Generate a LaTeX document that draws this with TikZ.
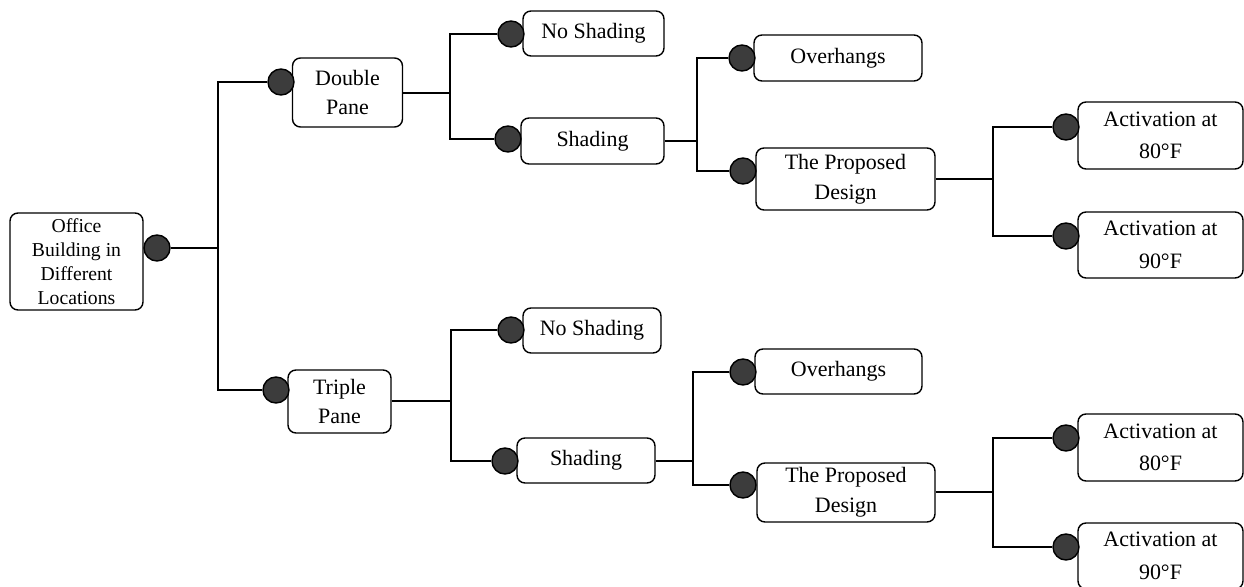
\documentclass[tikz,border=0pt]{standalone}
\usepackage{fontspec}
\setmainfont{Liberation Serif}
\definecolor{dotgray}{HTML}{3C3C3C}
\def\px{0.02cm}
\begin{document}
\begin{tikzpicture}[x=0.02cm, y=-0.02cm, line width=0.8pt,
    box/.style 2 args={draw, rounded corners=8*\px, fill=white, align=center,
        minimum width=#1*\px, minimum height=#2*\px, inner sep=0pt,
        font=\fontsize{12.5}{17}\selectfont},
    dot/.style={draw, circle, fill=dotgray, minimum size=26*\px, inner sep=0pt}]
    \useasboundingbox (0,0) rectangle (1244,587);
    % Root
    \node[box={133}{97}, font=\fontsize{11.2}{13.6}\selectfont] (office) at (76.5,261.5) {Office\\Building in\\Different\\Locations};
    % Glazing
    \node[box={110}{69}, font=\fontsize{12.5}{16.5}\selectfont] (double) at (347.5,92.5) {Double\\Pane};
    \node[box={103}{63}, font=\fontsize{12.5}{16.5}\selectfont] (triple) at (339.5,401.5) {Triple\\Pane};
    % Shading, upper branch
    \node[box={141}{45}] (noshadeA) at (593.5,33.5) {No Shading};
    \node[box={143}{46}] (shadeA) at (592.5,141) {Shading};
    \node[box={168}{46}] (overA) at (838,58) {Overhangs};
    \node[box={179}{62}] (designA) at (845.5,179) {The Proposed\\Design};
    \node[box={165}{67}, font=\fontsize{12.5}{18.5}\selectfont] (eightyA) at (1160.5,135.5) {Activation at\\80°F};
    \node[box={165}{66}, font=\fontsize{12.5}{18.5}\selectfont] (ninetyA) at (1160.5,245) {Activation at\\90°F};
    % Shading, lower branch
    \node[box={138}{45}] (noshadeB) at (592,330.5) {No Shading};
    \node[box={138}{45}] (shadeB) at (586,460.5) {Shading};
    \node[box={167}{45}] (overB) at (838.5,371.5) {Overhangs};
    \node[box={178}{59}] (designB) at (846,492.5) {The Proposed\\Design};
    \node[box={165}{67}, font=\fontsize{12.5}{18.5}\selectfont] (eightyB) at (1160.5,447.5) {Activation at\\80°F};
    \node[box={165}{66}, font=\fontsize{12.5}{18.5}\selectfont] (ninetyB) at (1160.5,556) {Activation at\\90°F};
    % Junctions
    \coordinate (j0) at (218,248);
    \coordinate (j1) at (450,93);
    \coordinate (j2) at (697,141);
    \coordinate (j3) at (993,179);
    \coordinate (j4) at (451,401);
    \coordinate (j5) at (693,461);
    \coordinate (j6) at (993,492);
    % Dots
    \node[dot] (d0) at (157,248) {};
    \node[dot] (d1) at (281,82) {};
    \node[dot] (d2) at (276,390) {};
    \node[dot] (d3) at (511,34) {};
    \node[dot] (d4) at (508,139) {};
    \node[dot] (d5) at (742,58) {};
    \node[dot] (d6) at (743,171) {};
    \node[dot] (d7) at (1066,127) {};
    \node[dot] (d8) at (1066,236) {};
    \node[dot] (d9) at (511,330) {};
    \node[dot] (d10) at (505,461) {};
    \node[dot] (d11) at (743,372) {};
    \node[dot] (d12) at (743,485) {};
    \node[dot] (d13) at (1066,438) {};
    \node[dot] (d14) at (1066,547) {};
    % Connectors
    \draw (d0) -- (j0);
    \draw (d1.west) -| (j0) |- (d2.west);
    \draw (double.east |- j1) -- (j1);
    \draw (d3.west) -| (j1) |- (d4.west);
    \draw (shadeA.east |- j2) -- (j2);
    \draw (d5.west) -| (j2) |- (d6.west);
    \draw (designA.east |- j3) -- (j3);
    \draw (d7.west) -| (j3) |- (d8.west);
    \draw (triple.east |- j4) -- (j4);
    \draw (d9.west) -| (j4) |- (d10.west);
    \draw (shadeB.east |- j5) -- (j5);
    \draw (d11.west) -| (j5) |- (d12.west);
    \draw (designB.east |- j6) -- (j6);
    \draw (d13.west) -| (j6) |- (d14.west);
\end{tikzpicture}
\end{document}
